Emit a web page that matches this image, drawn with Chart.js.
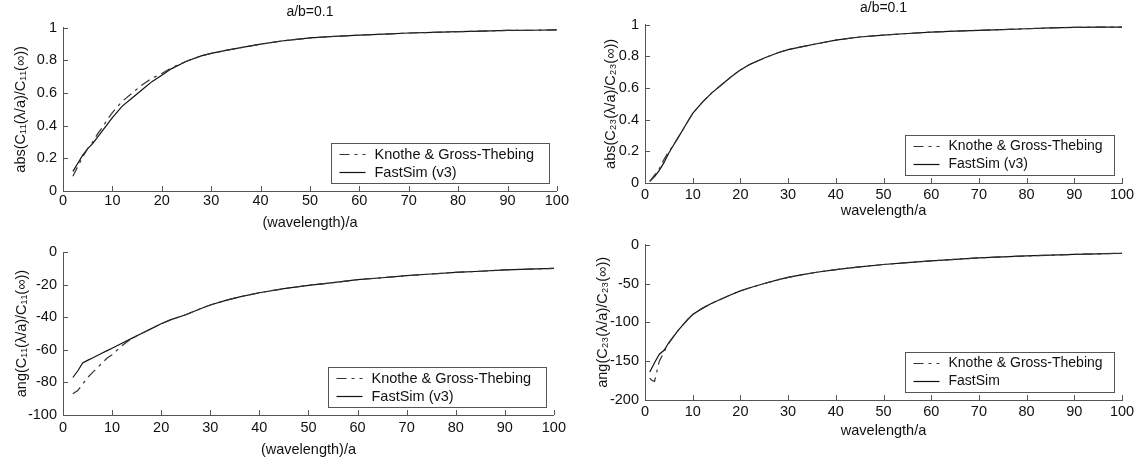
<!DOCTYPE html>
<html>
<head>
<meta charset="utf-8">
<script src="https://cdn.jsdelivr.net/npm/chart.js@4.4.0/dist/chart.umd.min.js"></script>
<style>
  html, body { margin: 0; padding: 0; background: #fff; }
  #wrap { position: relative; width: 1140px; height: 461px; overflow: hidden; }
  canvas { position: absolute; }
</style>
</head>
<body>
<div id="wrap">
  <canvas id="c11abs" width="570" height="236" style="left:0;top:0"></canvas>
  <canvas id="c23abs" width="570" height="230" style="left:570px;top:0"></canvas>
  <canvas id="c11ang" width="570" height="231" style="left:0;top:230px"></canvas>
  <canvas id="c23ang" width="570" height="231" style="left:570px;top:230px"></canvas>
</div>
<script>
// ---- data ----
const wlC11 = [2, 3, 4, 5, 6, 7, 8, 9, 10, 12, 14, 16, 18, 20, 22, 25, 28, 30, 33, 36, 40, 45, 50, 55, 60, 65, 70, 75, 80, 85, 90, 95, 100];
const absC11FastSim = [0.12, 0.17, 0.22, 0.26, 0.29, 0.33, 0.37, 0.41, 0.45, 0.52, 0.57, 0.62, 0.67, 0.71, 0.75, 0.795, 0.828, 0.843, 0.862, 0.878, 0.9, 0.922, 0.938, 0.948, 0.955, 0.961, 0.968, 0.972, 0.976, 0.98, 0.984, 0.985, 0.987];
const absC11Knothe = [0.09, 0.15, 0.21, 0.26, 0.30, 0.35, 0.39, 0.44, 0.48, 0.55, 0.60, 0.65, 0.69, 0.72, 0.755, 0.795, 0.828, 0.843, 0.862, 0.878, 0.9, 0.922, 0.938, 0.948, 0.955, 0.961, 0.968, 0.972, 0.976, 0.98, 0.984, 0.985, 0.987];
const angC11FastSim = [-77, -73, -68, -66.5, -65, -63.5, -62, -60.5, -59, -56, -53, -50, -47, -44, -41.5, -38.5, -34.8, -32.5, -29.8, -27.5, -25, -22.5, -20.5, -18.8, -17, -15.8, -14.5, -13.5, -12.5, -11.8, -11, -10.5, -10];
const angC11Knothe = [-87, -85, -81, -77, -74, -71, -68, -65, -63, -57.5, -53, -50, -47, -44, -41.5, -38.5, -34.8, -32.5, -29.8, -27.5, -25, -22.5, -20.5, -18.8, -17, -15.8, -14.5, -13.5, -12.5, -11.8, -11, -10.5, -10];

const wlC23 = [1, 2, 3, 4, 5, 6, 7, 8, 9, 10, 12, 14, 16, 18, 20, 22, 25, 28, 30, 33, 36, 40, 45, 50, 55, 60, 65, 70, 75, 80, 85, 90, 95, 100];
const absC23FastSim = [0.01, 0.04, 0.08, 0.13, 0.19, 0.24, 0.29, 0.34, 0.39, 0.44, 0.51, 0.57, 0.62, 0.67, 0.715, 0.75, 0.79, 0.825, 0.843, 0.862, 0.88, 0.903, 0.923, 0.935, 0.945, 0.954, 0.96, 0.965, 0.97, 0.975, 0.98, 0.984, 0.985, 0.985];
const absC23Knothe = [0.01, 0.05, 0.09, 0.15, 0.2, 0.24, 0.29, 0.34, 0.39, 0.44, 0.51, 0.57, 0.62, 0.67, 0.715, 0.75, 0.79, 0.825, 0.843, 0.862, 0.88, 0.903, 0.923, 0.935, 0.945, 0.954, 0.96, 0.965, 0.97, 0.975, 0.98, 0.984, 0.985, 0.985];
const angC23FastSim = [-164, -152, -141, -136, -126, -118, -110, -103, -96, -90, -82, -75.5, -70, -64.5, -59.5, -55.5, -50, -45, -42, -38.5, -35.5, -32, -28.5, -25.5, -23, -20.8, -18.8, -17, -15.6, -14.5, -13.5, -12.5, -11.8, -11];
const wlC23AngKnothe = [1, 1.5, 2, 3, 4, 5, 6, 7, 8, 9, 10, 12, 14, 16, 18, 20, 22, 25, 28, 30, 33, 36, 40, 45, 50, 55, 60, 65, 70, 75, 80, 85, 90, 95, 100];
const angC23Knothe = [-172, -175, -176, -150, -138, -127, -118, -110, -103, -96, -90, -82, -75.5, -70, -64.5, -59.5, -55.5, -50, -45, -42, -38.5, -35.5, -32, -28.5, -25.5, -23, -20.8, -18.8, -17, -15.6, -14.5, -13.5, -12.5, -11.8, -11];

const knotheLabel = 'Knothe & Gross-Thebing';
const fastSimV3Label = 'FastSim (v3)';
const fastSimLabel = 'FastSim';

// ---- styling ----
const FONT = "'Liberation Sans', Arial, Helvetica, sans-serif";
const axisColor = '#555';
const textColor = '#111';
Chart.defaults.font.family = FONT;
Chart.defaults.font.size = 14;
Chart.defaults.color = textColor;

const pts = (xs, ys) => xs.map((x, i) => ({ x: x, y: ys[i] }));

// MATLAB style ticks pointing into the plot
const inwardTicks = {
  id: 'inwardTicks',
  afterDatasetsDraw(chart) {
    const { ctx, chartArea, scales: { x, y } } = chart;
    ctx.save();
    ctx.strokeStyle = axisColor;
    ctx.lineWidth = 1;
    ctx.beginPath();
    x.ticks.forEach(t => {
      const px = Math.round(x.getPixelForValue(t.value)) + 0.5;
      ctx.moveTo(px, chartArea.bottom);
      ctx.lineTo(px, chartArea.bottom - 5);
    });
    y.ticks.forEach(t => {
      const py = Math.round(y.getPixelForValue(t.value)) + 0.5;
      ctx.moveTo(chartArea.left, py);
      ctx.lineTo(chartArea.left + 5, py);
    });
    ctx.stroke();
    ctx.restore();
  }
};

// boxed legend in the lower right corner of the axes
const boxLegend = {
  id: 'boxLegend',
  afterDatasetsDraw(chart, args, opts) {
    const { ctx, chartArea } = chart;
    const w = opts.width, h = 40;
    const left = Math.round(chartArea.right - 8 - w) + 0.5;
    const top = Math.round(chartArea.bottom - 8 - h) + 0.5;
    ctx.save();
    ctx.fillStyle = '#fff';
    ctx.fillRect(left, top, w, h);
    ctx.strokeStyle = axisColor;
    ctx.lineWidth = 1;
    ctx.strokeRect(left, top, w, h);
    ctx.font = opts.fontSize + 'px ' + FONT;
    ctx.textBaseline = 'middle';
    ctx.fillStyle = textColor;
    chart.data.datasets.forEach((ds, i) => {
      const cy = top + 11 + i * 18;
      ctx.beginPath();
      ctx.setLineDash(ds.borderDash || []);
      ctx.strokeStyle = ds.borderColor;
      ctx.lineWidth = ds.borderWidth;
      ctx.moveTo(left + 8, cy);
      ctx.lineTo(left + 34, cy);
      ctx.stroke();
      ctx.setLineDash([]);
      ctx.fillText(ds.label, left + 43, cy);
    });
    ctx.restore();
  }
};

function makePanel(id, cfg) {
  return new Chart(document.getElementById(id), {
    type: 'line',
    data: {
      datasets: [
        { label: knotheLabel, data: cfg.knothe, borderColor: '#333', borderWidth: 1.2, borderDash: [10, 5, 3, 5], pointRadius: 0, tension: 0 },
        { label: cfg.fastLabel, data: cfg.fast, borderColor: '#111', borderWidth: 1.2, pointRadius: 0, tension: 0 }
      ]
    },
    options: {
      responsive: false,
      animation: false,
      devicePixelRatio: 1,
      layout: { padding: { top: cfg.padTop, right: cfg.padRight, left: 0, bottom: 0 } },
      plugins: {
        legend: { display: false },
        tooltip: { enabled: false },
        title: {
          display: !!cfg.title,
          text: cfg.title || '',
          fullSize: false,
          color: textColor,
          font: { size: 14, weight: 'normal' },
          padding: cfg.titlePad || 0
        },
        boxLegend: { width: cfg.legendWidth, fontSize: cfg.legendFont }
      },
      scales: {
        x: {
          type: 'linear',
          min: 0, max: 100,
          afterFit: s => { s.height = cfg.xHeight; },
          grid: { display: false, drawTicks: false },
          border: { display: true, color: axisColor, width: 1 },
          ticks: { stepSize: 10, padding: cfg.xTickPad, color: textColor, maxRotation: 0, font: { size: 14.5 }, callback: v => String(v) },
          title: { display: true, text: cfg.xLabel, color: textColor, font: { size: 14.5 }, padding: { top: 0, bottom: cfg.xTitlePad } }
        },
        y: {
          min: cfg.yMin, max: cfg.yMax,
          afterFit: s => { s.width = cfg.yWidth; },
          grid: { display: false, drawTicks: false },
          border: { display: true, color: axisColor, width: 1 },
          ticks: { stepSize: cfg.yStep, padding: 6, color: textColor, font: { size: 14.5 }, callback: v => String(Number(v.toFixed(2))) },
          title: { display: true, text: cfg.yLabel, color: textColor, font: { size: 14.5 }, padding: { top: cfg.yTitlePad, bottom: 0 } }
        }
      }
    },
    plugins: [inwardTicks, boxLegend]
  });
}

makePanel('c11abs', {
  knothe: pts(wlC11, absC11Knothe), fast: pts(wlC11, absC11FastSim), fastLabel: fastSimV3Label,
  title: 'a/b=0.1', titlePad: { top: 4, bottom: 7 },
  xLabel: '(wavelength)/a', yLabel: 'abs(C\u2081\u2081(\u03bb/a)/C\u2081\u2081(\u221e))',
  yMin: 0, yMax: 1, yStep: 0.2,
  padTop: 0, padRight: 10, yWidth: 63, xHeight: 45, xTickPad: 1, xTitlePad: 4.6, yTitlePad: 12,
  legendWidth: 218, legendFont: 14.5
});

makePanel('c23abs', {
  knothe: pts(wlC23, absC23Knothe), fast: pts(wlC23, absC23FastSim), fastLabel: fastSimV3Label,
  title: 'a/b=0.1', titlePad: { top: 0, bottom: 8 },
  xLabel: 'wavelength/a', yLabel: 'abs(C\u2082\u2083(\u03bb/a)/C\u2082\u2083(\u221e))',
  yMin: 0, yMax: 1, yStep: 0.2,
  padTop: 0, padRight: 18, yWidth: 75, xHeight: 47, xTickPad: 3.6, xTitlePad: 10.6, yTitlePad: 32.6,
  legendWidth: 209, legendFont: 14
});

makePanel('c11ang', {
  knothe: pts(wlC11, angC11Knothe), fast: pts(wlC11, angC11FastSim), fastLabel: fastSimV3Label,
  xLabel: '(wavelength)/a', yLabel: 'ang(C\u2081\u2081(\u03bb/a)/C\u2081\u2081(\u221e))',
  yMin: -100, yMax: 0, yStep: 20,
  padTop: 22, padRight: 10, yWidth: 63, xHeight: 46, xTickPad: 4, xTitlePad: 2.6, yTitlePad: 13.6,
  legendWidth: 218, legendFont: 14.5
});

makePanel('c23ang', {
  knothe: pts(wlC23AngKnothe, angC23Knothe), fast: pts(wlC23, angC23FastSim), fastLabel: fastSimLabel,
  xLabel: 'wavelength/a', yLabel: 'ang(C\u2082\u2083(\u03bb/a)/C\u2082\u2083(\u221e))',
  yMin: -200, yMax: 0, yStep: 50,
  padTop: 12, padRight: 18, yWidth: 75, xHeight: 61, xTickPad: 3.6, xTitlePad: 21.6, yTitlePad: 24,
  legendWidth: 209, legendFont: 14
});
</script>
</body>
</html>
